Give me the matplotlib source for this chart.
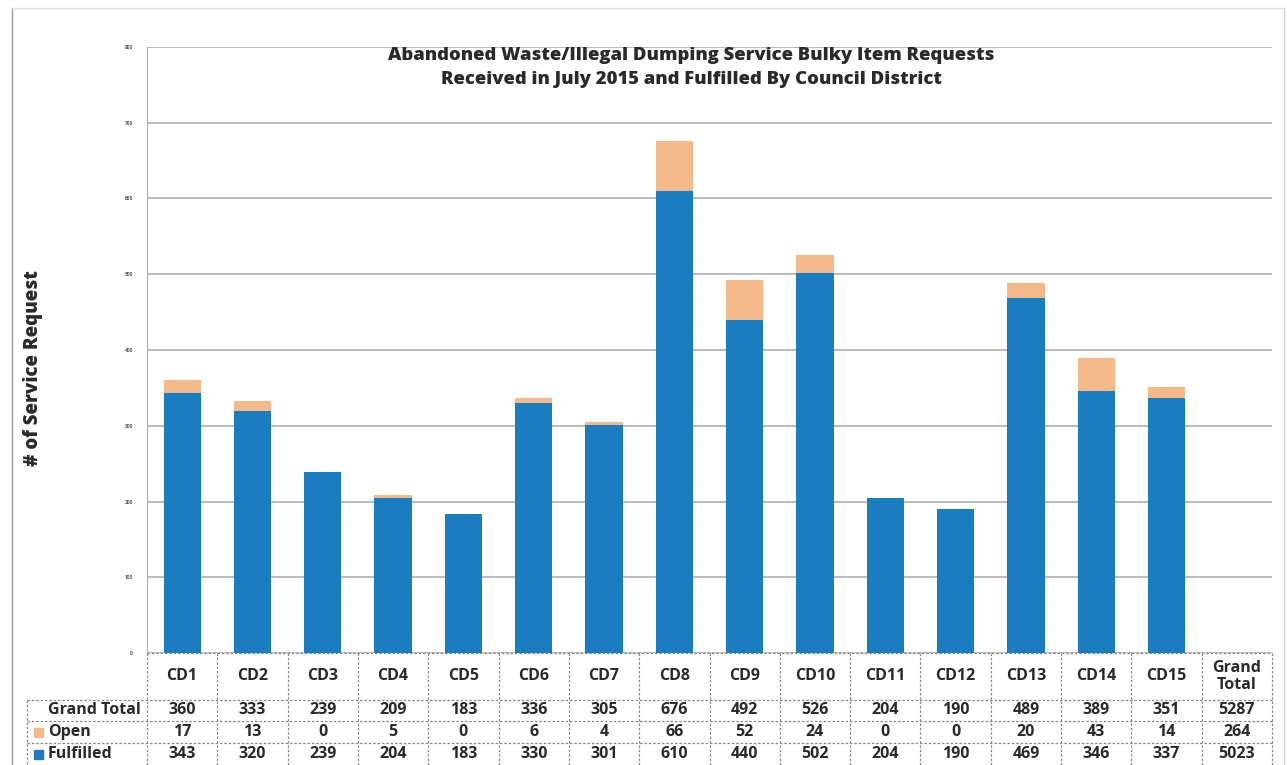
import matplotlib
matplotlib.use("Agg")
import matplotlib.pyplot as plt
from matplotlib.transforms import blended_transform_factory
from matplotlib.lines import Line2D
from matplotlib.patches import Rectangle

districts = ["CD1", "CD2", "CD3", "CD4", "CD5", "CD6", "CD7", "CD8",
             "CD9", "CD10", "CD11", "CD12", "CD13", "CD14", "CD15"]
fulfilled = [343, 320, 239, 204, 183, 330, 301, 610, 440, 502, 204, 190, 469, 346, 337]
open_req = [17, 13, 0, 5, 0, 6, 4, 66, 52, 24, 0, 0, 20, 43, 14]
grand_total = [360, 333, 239, 209, 183, 336, 305, 676, 492, 526, 204, 190, 489, 389, 351]
total_fulfilled = 5023
total_open = 264
total_all = 5287

BLUE = "#1a7dc0"
PEACH = "#f5b98a"
TXT = "#2a2a2a"

plt.rcParams["font.family"] = ["Open Sans", "DejaVu Sans"]

W, H = 1287, 765
fig = plt.figure(figsize=(W / 100, H / 100), dpi=100)
fig.patch.set_facecolor("white")

def fx(px):
    return px / W

def fy(py):
    return 1 - py / H

ax = fig.add_axes([fx(147), fy(653), fx(1272) - fx(147), fy(47) - fy(653)])
x = list(range(len(districts)))
ax.bar(x, fulfilled, width=0.53, color=BLUE, zorder=3)
ax.bar(x, open_req, bottom=fulfilled, width=0.53, color=PEACH, zorder=3)

ax.set_xlim(-0.5, 15.5)
ax.set_ylim(0, 800)
ax.set_yticks(range(0, 900, 100))
ax.set_yticklabels([str(v) for v in range(0, 900, 100)], fontsize=3.5,
                   fontweight="bold", color="#555555")
ax.tick_params(axis="y", length=0, pad=10)
ax.set_xticks([])
ax.grid(axis="y", color="#a8a8a8", linewidth=1.1, zorder=0)
for s in ["top", "right", "bottom"]:
    ax.spines[s].set_visible(False)
ax.spines["left"].set_color("#b0b0b0")

fig.text(fx(691), fy(56), "Abandoned Waste/Illegal Dumping Service Bulky Item Requests",
         ha="center", va="center", fontsize=13.3, fontweight=800, color=TXT)
fig.text(fx(691), fy(79), "Received in July 2015 and Fulfilled By Council District",
         ha="center", va="center", fontsize=13.3, fontweight=800, color=TXT)

fig.text(fx(33), fy(368), "# of Service Request", rotation=90, ha="center", va="center",
         fontsize=13.5, fontweight=800, color=TXT)

# data table under the bars
tr = blended_transform_factory(ax.transData, fig.transFigure)
row_y = [653, 700, 721, 743, 765]
lc = "#8a8a8a"

def hline(x0, x1, py):
    ax.add_line(Line2D([x0, x1], [fy(py), fy(py)], transform=tr, color=lc,
                       linewidth=0.9, linestyle=(0, (2, 1.5)), clip_on=False))

def vline(xv, py0, py1):
    ax.add_line(Line2D([xv, xv], [fy(py0), fy(py1)], transform=tr, color=lc,
                       linewidth=0.9, linestyle=(0, (2, 1.5)), clip_on=False))

left_px = 27
left_x = -0.5 - (147 - left_px) / ((1272 - 147) / 16)
hline(-0.5, 15.5, 653)
for py in row_y[1:4]:
    hline(left_x, 15.5, py)
for i in range(17):
    vline(i - 0.5, 653, 765)
vline(left_x, 700, 765)

cols = districts + ["Grand\nTotal"]
for i, c in enumerate(cols):
    ax.text(i, fy(676.5), c, transform=tr, ha="center", va="center", fontsize=11.5,
            fontweight="bold", color=TXT, linespacing=1.1, clip_on=False)

rows = [grand_total + [total_all], open_req + [total_open], fulfilled + [total_fulfilled]]
for r, vals in enumerate(rows):
    yc = fy((row_y[r + 1] + row_y[r + 2]) / 2)
    for i, v in enumerate(vals):
        ax.text(i, yc, str(v), transform=tr, ha="center", va="center", fontsize=11.5,
                fontweight="bold", color=TXT, clip_on=False)

labels = ["Grand Total", "Open", "Fulfilled"]
for r, lab in enumerate(labels):
    yc = (row_y[r + 1] + row_y[r + 2]) / 2
    fig.text(fx(48), fy(yc), lab, ha="left", va="center", fontsize=11.5,
             fontweight="bold", color=TXT)
fig.patches.append(Rectangle((fx(34), fy(737)), fx(9) - fx(0), fy(0) - fy(9),
                             transform=fig.transFigure, color=PEACH))
fig.patches.append(Rectangle((fx(34), fy(759)), fx(9) - fx(0), fy(0) - fy(9),
                             transform=fig.transFigure, color=BLUE))

# outer chart border
fig.add_artist(Line2D([fx(12), fx(12)], [0, fy(8)], color="#9a9a9a", linewidth=1))
fig.add_artist(Line2D([fx(1284), fx(1284)], [0, fy(8)], color="#cfcfcf", linewidth=1))
fig.add_artist(Line2D([fx(12), fx(1284)], [fy(8), fy(8)], color="#dddddd", linewidth=1))

fig.savefig("out.png", dpi=100, facecolor="white")
